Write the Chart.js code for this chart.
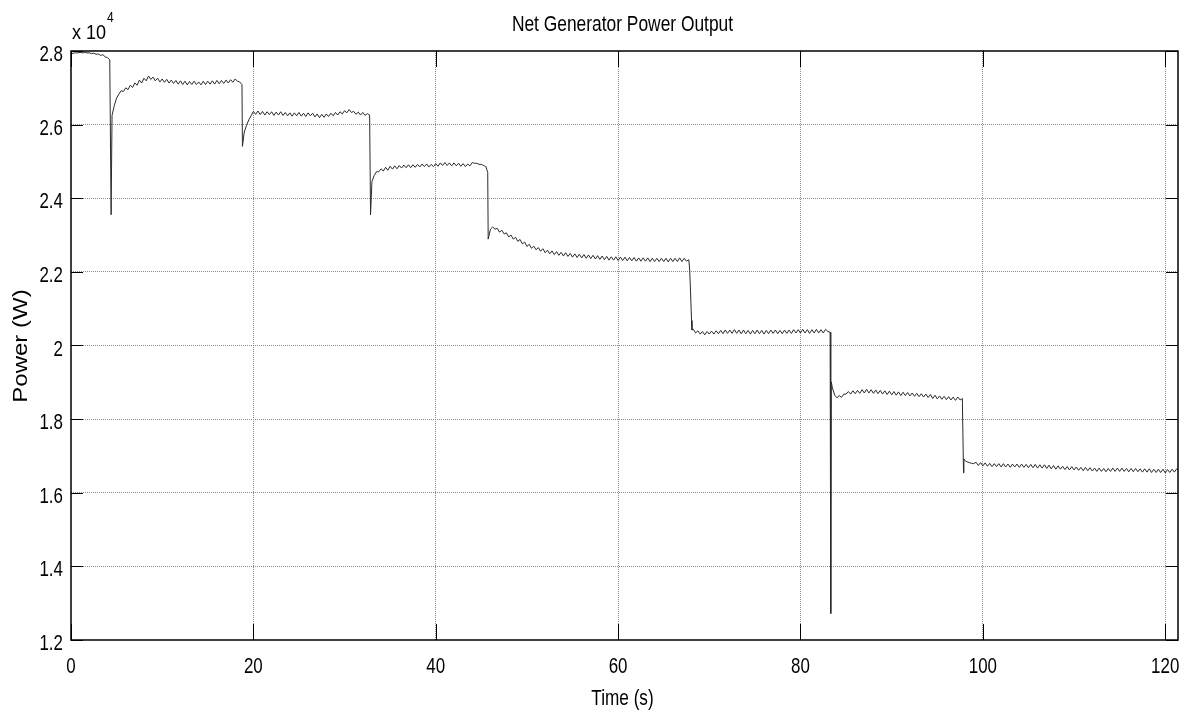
<!DOCTYPE html>
<html>
<head>
<meta charset="utf-8">
<title>Net Generator Power Output</title>
<script src="https://cdn.jsdelivr.net/npm/chart.js@4.4.1/dist/chart.umd.min.js"></script>
<style>
  html, body { margin: 0; padding: 0; background: #fff; }
  #wrap { width: 1189px; height: 713px; }
</style>
</head>
<body>
<div id="wrap"><canvas id="myChart"></canvas></div>
<script>
// power samples in units of 10^4 W, one every 0.25 s inside each segment
const sampleStep = 0.25;
const segmentStarts = [0, 4.5, 19.0, 33.0, 46.0, 68.25, 83.5, 98.0];

const segA = [
  2.792, 2.794, 2.795, 2.795, 2.796, 2.795, 2.796, 2.795,
  2.795, 2.793, 2.794, 2.791, 2.792, 2.788, 2.790, 2.784,
  2.782, 2.776
];
const segB = [
  2.625, 2.652, 2.672, 2.683, 2.692, 2.690, 2.700, 2.695,
  2.707, 2.701, 2.713, 2.707, 2.721, 2.713, 2.726, 2.719,
  2.732, 2.723, 2.729, 2.719, 2.726, 2.716, 2.724, 2.715,
  2.723, 2.713, 2.721, 2.712, 2.720, 2.710, 2.719, 2.709,
  2.718, 2.708, 2.717, 2.709, 2.718, 2.709, 2.716, 2.708,
  2.718, 2.709, 2.718, 2.710, 2.719, 2.710, 2.720, 2.711,
  2.720, 2.712, 2.721, 2.713, 2.722, 2.715, 2.724, 2.718,
  2.716, 2.709
];
const segC = [
  2.580, 2.598, 2.613, 2.624, 2.636, 2.628, 2.637, 2.627,
  2.636, 2.626, 2.635, 2.627, 2.635, 2.625, 2.634, 2.626,
  2.635, 2.625, 2.633, 2.624, 2.632, 2.623, 2.632, 2.624,
  2.633, 2.623, 2.631, 2.622, 2.632, 2.624, 2.631, 2.621,
  2.629, 2.619, 2.628, 2.620, 2.629, 2.622, 2.631, 2.624,
  2.633, 2.626, 2.635, 2.629, 2.638, 2.632, 2.641, 2.633,
  2.636, 2.628, 2.634, 2.626, 2.633, 2.625, 2.630, 2.626
];
const segD = [
  2.445, 2.462, 2.472, 2.472, 2.480, 2.474, 2.484, 2.476,
  2.487, 2.479, 2.488, 2.480, 2.489, 2.482, 2.490, 2.483,
  2.491, 2.483, 2.491, 2.484, 2.492, 2.485, 2.493, 2.486,
  2.493, 2.485, 2.492, 2.486, 2.494, 2.487, 2.496, 2.489,
  2.497, 2.489, 2.496, 2.488, 2.496, 2.488, 2.495, 2.487,
  2.494, 2.486, 2.493, 2.488, 2.497, 2.495, 2.495, 2.492,
  2.492, 2.489, 2.486
];
const segE = [
  2.316, 2.322, 2.316, 2.318, 2.308, 2.313, 2.303, 2.306,
  2.295, 2.300, 2.289, 2.294, 2.283, 2.288, 2.276, 2.281,
  2.269, 2.275, 2.264, 2.270, 2.260, 2.266, 2.256, 2.263,
  2.252, 2.259, 2.249, 2.257, 2.247, 2.255, 2.245, 2.253,
  2.243, 2.252, 2.242, 2.250, 2.240, 2.249, 2.239, 2.248,
  2.238, 2.247, 2.237, 2.246, 2.236, 2.245, 2.235, 2.244,
  2.234, 2.243, 2.233, 2.242, 2.232, 2.241, 2.232, 2.241,
  2.231, 2.240, 2.231, 2.240, 2.230, 2.239, 2.230, 2.239,
  2.229, 2.238, 2.229, 2.238, 2.229, 2.238, 2.228, 2.237,
  2.228, 2.237, 2.228, 2.237, 2.228, 2.237, 2.227, 2.237,
  2.228, 2.237, 2.228, 2.238, 2.228, 2.237, 2.229, 2.233
];
const segF = [
  2.044, 2.034, 2.040, 2.031, 2.038, 2.029, 2.038,
  2.031, 2.039, 2.031, 2.040, 2.032, 2.041, 2.032, 2.042,
  2.033, 2.042, 2.033, 2.043, 2.033, 2.042, 2.032, 2.042,
  2.032, 2.041, 2.031, 2.041, 2.032, 2.042, 2.032, 2.041,
  2.031, 2.041, 2.032, 2.042, 2.033, 2.042, 2.032, 2.041,
  2.032, 2.042, 2.033, 2.042, 2.033, 2.043, 2.034, 2.043,
  2.034, 2.044, 2.034, 2.043, 2.033, 2.043, 2.034, 2.044,
  2.034, 2.043, 2.034, 2.044, 2.038, 2.036
];
const segG = [
  1.885, 1.865,
  1.858, 1.864, 1.859, 1.868, 1.868, 1.875, 1.868, 1.877,
  1.869, 1.878, 1.870, 1.880, 1.871, 1.881, 1.871, 1.880,
  1.870, 1.879, 1.869, 1.878, 1.868, 1.877, 1.867, 1.876,
  1.866, 1.875, 1.865, 1.874, 1.864, 1.873, 1.864, 1.872,
  1.863, 1.871, 1.862, 1.870, 1.861, 1.869, 1.860, 1.868,
  1.859, 1.867, 1.856, 1.865, 1.855, 1.863, 1.854, 1.862,
  1.853, 1.861, 1.852, 1.860, 1.851, 1.860, 1.852, 1.856
];
const segH = [
  1.688, 1.684, 1.682, 1.680, 1.679, 1.683, 1.674, 1.682,
  1.673, 1.681, 1.672, 1.680, 1.671, 1.679, 1.671, 1.679,
  1.670, 1.679, 1.670, 1.678, 1.669, 1.678, 1.670, 1.678,
  1.669, 1.678, 1.669, 1.677, 1.668, 1.677, 1.668, 1.677,
  1.667, 1.676, 1.667, 1.676, 1.666, 1.675, 1.665, 1.674,
  1.664, 1.673, 1.664, 1.672, 1.663, 1.671, 1.662, 1.671,
  1.662, 1.670, 1.661, 1.669, 1.660, 1.669, 1.660, 1.668,
  1.659, 1.667, 1.658, 1.667, 1.658, 1.666, 1.657, 1.666,
  1.658, 1.667, 1.658, 1.667, 1.658, 1.667, 1.658, 1.666,
  1.657, 1.666, 1.657, 1.666, 1.657, 1.665, 1.656, 1.665,
  1.656, 1.665, 1.655, 1.664, 1.655, 1.664, 1.655, 1.664,
  1.654, 1.663, 1.655, 1.664, 1.656, 1.665, 1.663
];
const segments = [segA, segB, segC, segD, segE, segF, segG, segH];

// the load steps: dips and fast edges between segments
const transientTimes = [4.40, 18.80, 32.85, 45.70, 45.75, 67.85, 67.95, 68.05, 68.10, 83.32, 83.38, 97.88, 97.92];
const transientValues = [2.355, 2.541, 2.355, 2.470, 2.289, 2.205, 2.140, 2.068, 2.042, 1.272, 1.901, 1.654, 1.692];

const xTicksStep = 20;
const yTicksStep = 0.2;

// build the series
let points = [];
segments.forEach((seg, k) => {
  seg.forEach((v, i) => points.push({ x: segmentStarts[k] + i * sampleStep, y: v }));
});
transientTimes.forEach((t, i) => points.push({ x: t, y: transientValues[i] }));
points.sort((a, b) => a.x - b.x);

const sans = "'Liberation Sans', Arial, sans-serif";
const squeeze = 0.77; // the figure text is horizontally condensed

function tickText(v, isY) {
  return isY ? Number(v.toFixed(1)).toString() : String(Math.round(v));
}

// draws condensed text at (x, y)
function narrowText(ctx, text, x, y, size, align, sx) {
  ctx.save();
  ctx.translate(x, y);
  ctx.scale(sx || squeeze, 1);
  ctx.font = size + "px " + sans;
  ctx.textAlign = align;
  ctx.textBaseline = "alphabetic";
  ctx.fillText(text, 0, 0);
  ctx.restore();
}

// MATLAB style box, inward ticks and the texts around the axes
const matlabFrame = {
  id: "matlabFrame",
  afterDraw(chart) {
    const { ctx, chartArea: a, scales } = chart;
    const xs = scales.x, ys = scales.y;
    ctx.save();
    ctx.strokeStyle = "#000";
    ctx.lineWidth = 1;
    ctx.beginPath();
    xs.ticks.forEach((t) => {
      const px = Math.round(xs.getPixelForValue(t.value)) + 0.5;
      ctx.moveTo(px, a.bottom); ctx.lineTo(px, a.bottom - 16);
      ctx.moveTo(px, a.top); ctx.lineTo(px, a.top + 16);
    });
    ys.ticks.forEach((t) => {
      const py = Math.round(ys.getPixelForValue(t.value)) + 0.5;
      ctx.moveTo(a.left, py); ctx.lineTo(a.left + 12, py);
      ctx.moveTo(a.right, py); ctx.lineTo(a.right - 12, py);
    });
    ctx.stroke();
    ctx.lineWidth = 1.5;
    ctx.strokeRect(a.left, a.top, a.right - a.left, a.bottom - a.top);

    ctx.fillStyle = "#000";
    // tick labels, placed by the chart's scales
    xs.ticks.forEach((t) => {
      narrowText(ctx, tickText(t.value, false), xs.getPixelForValue(t.value), a.bottom + 33, 22, "center");
    });
    ys.ticks.forEach((t) => {
      narrowText(ctx, tickText(t.value, true), a.left - 8, ys.getPixelForValue(t.value) + 10, 22, "right");
    });

    const cx = (a.left + a.right) / 2 - 2;
    narrowText(ctx, "Net Generator Power Output", cx, 31, 22, "center", 0.79);
    narrowText(ctx, "Time (s)", cx, 705, 22, "center", 0.78);

    narrowText(ctx, "x 10", 72, 39, 21, "left", 0.86);
    narrowText(ctx, "4", 107, 22, 14, "left", 0.86);

    ctx.translate(21, 346);
    ctx.rotate(-Math.PI / 2);
    ctx.scale(1, 0.85);
    ctx.textAlign = "center";
    ctx.textBaseline = "middle";
    ctx.font = "24px " + sans;
    ctx.fillText("Power (W)", 0, 0);
    ctx.restore();
  },
};

const ctx = document.getElementById("myChart").getContext("2d");
const myChart = new Chart(ctx, {
  type: "line",
  data: {
    datasets: [
      {
        data: points,
        borderColor: "#2a2a2a",
        borderWidth: 1,
        pointRadius: 0,
        tension: 0,
        fill: false,
      },
    ],
  },
  options: {
    responsive: true,
    maintainAspectRatio: false,
    animation: false,
    layout: { padding: { top: 51, right: 11, left: 0, bottom: 0 } },
    plugins: { legend: { display: false }, tooltip: { enabled: false } },
    scales: {
      x: {
        type: "linear",
        min: 0,
        max: 121.4,
        bounds: "data",
        ticks: {
          display: false,
          stepSize: xTicksStep,
          includeBounds: false,
        },
        grid: {
          drawTicks: false,
          tickLength: 0,
          lineWidth: 1,
          color: (c) => (c.tick && c.tick.value === 0 ? "rgba(0,0,0,0)" : "#8c8c8c"),
        },
        border: { display: false, dash: [1, 1] },
        afterFit: (s) => { s.height = 73; },
      },
      y: {
        min: 1.2,
        max: 2.8,
        ticks: {
          display: false,
          stepSize: yTicksStep,
        },
        grid: {
          drawTicks: false,
          tickLength: 0,
          lineWidth: 1,
          color: (c) => {
            const v = c.tick ? c.tick.value : 0;
            return Math.abs(v - 1.2) < 1e-6 || Math.abs(v - 2.8) < 1e-6 ? "rgba(0,0,0,0)" : "#8c8c8c";
          },
        },
        border: { display: false, dash: [1, 1] },
        afterFit: (s) => { s.width = 71; },
      },
    },
  },
  plugins: [matlabFrame],
});
</script>
</body>
</html>
